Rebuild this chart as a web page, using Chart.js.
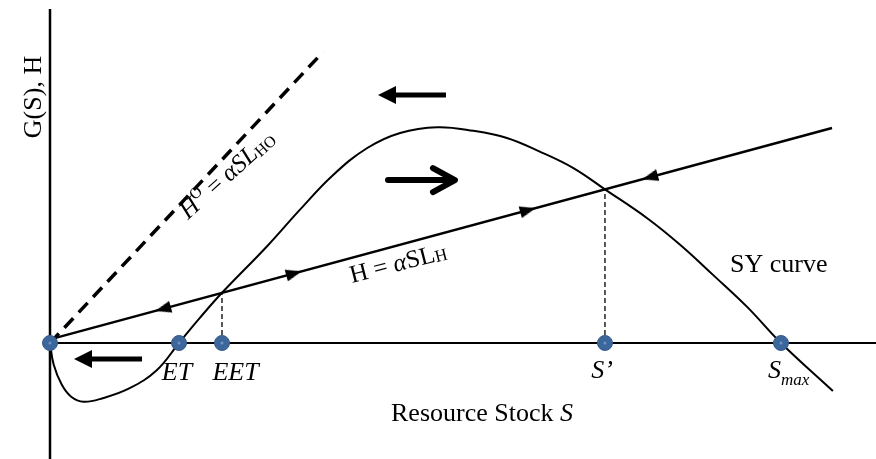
<!DOCTYPE html>
<html><head><meta charset="utf-8">
<script src="https://cdn.jsdelivr.net/npm/chart.js@4"></script>
<style>html,body{margin:0;padding:0;background:#fff}#wrap{width:876px;height:459px}</style>
</head><body><div id="wrap"><canvas id="c" width="876" height="459"></canvas></div>
<script>
// ---- data (stock S, growth G / harvest H in arbitrary units) ----
const CURVE_S = [0, 0.5, 1.6, 2.9, 4.6, 7.2, 10.9, 14.6, 17.65, 20.5, 23.53, 29.7, 34.2, 38.7, 43.4, 47.9, 53.0, 57.9, 62.5, 67.0, 71.6, 75.92, 81.7, 86.2, 90.7, 95.4, 100, 107.1];
const CURVE_G = [0, -3.0, -5.8, -7.5, -8.2, -7.7, -6.3, -3.8, 0, 3.5, 7.0, 13.5, 18.6, 23.4, 27.2, 29.3, 30.1, 29.6, 28.6, 26.7, 24.4, 21.43, 17.4, 13.7, 9.5, 5.0, 0, -6.7];
const H_LINE_S = [0, 106.98];
const H_LINE_V = [0.5, 29.99];
const HO_LINE_S = [0, 37.35];
const HO_LINE_V = [0, 40.59];
const EQ_LABELS = ['0', 'ET', 'EET', 'S’', 'Smax'];
const EQ_S = [0, 17.65, 23.53, 75.92, 100];
const DROP_S = [23.53, 75.92];           // EET and S' dashed drop lines
const FLOW_S = [15.46, 33.38, 65.39, 82.08];
const FLOW_DIR = [-1, 1, 1, -1];
const X_RANGE = [-6.84, 113.0];
const Y_RANGE = [-16.18, 47.84];
const Y_AXIS_TOP = 46.58;

function hAt(s){ return H_LINE_V[0] + (s - H_LINE_S[0]) * (H_LINE_V[1]-H_LINE_V[0])/(H_LINE_S[1]-H_LINE_S[0]); }

// arrowhead image for flow markers (points up, rotated by Chart.js)
const head = document.createElement('canvas');
head.width = 12; head.height = 16;
(function(){ const c = head.getContext('2d'); c.fillStyle='#000'; c.beginPath(); c.moveTo(6,0); c.lineTo(12,16); c.lineTo(0,16); c.closePath(); c.fill(); })();

const lineAngle = 15.4;
const SERIF = '"Liberation Serif","Times New Roman",serif';

function runsWidth(ctx, runs){ let w=0; for(const r of runs){ ctx.font=r.f; w+=ctx.measureText(r.t).width; } return w; }
function drawRuns(ctx, x, y, ang, runs, align){
  ctx.save(); ctx.translate(x,y); ctx.rotate(ang*Math.PI/180);
  ctx.textBaseline='alphabetic'; ctx.textAlign='left'; ctx.fillStyle='#000';
  let cx = 0; const w = runsWidth(ctx, runs);
  if(align==='center') cx = -w/2;
  for(const r of runs){ ctx.font=r.f; ctx.fillText(r.t, cx, r.dy||0); cx += ctx.measureText(r.t).width; }
  ctx.restore();
}
function F(size, italic){ return (italic?'italic ':'') + size + 'px ' + SERIF; }

const annot = {
  id:'annot',
  afterDatasetsDraw(chart){
    const ctx = chart.ctx, xs = chart.scales.x, ys = chart.scales.y;
    const P = (x,y)=>[xs.getPixelForValue(x), ys.getPixelForValue(y)];
    ctx.save(); ctx.fillStyle='#000'; ctx.strokeStyle='#000';
    function bigArrow(tail, tip){
      const [x1,y1]=P(tail[0],tail[1]), [x2,y2]=P(tip[0],tip[1]);
      const dir = Math.sign(x2-x1), hl=18, hw=9;
      ctx.lineWidth=5; ctx.lineCap='butt';
      ctx.beginPath(); ctx.moveTo(x1,y1); ctx.lineTo(x2-dir*hl+dir*1,y2); ctx.stroke();
      ctx.beginPath(); ctx.moveTo(x2,y2); ctx.lineTo(x2-dir*hl,y2-hw); ctx.lineTo(x2-dir*hl,y2+hw); ctx.closePath(); ctx.fill();
    }
    bigArrow([12.59,-2.23],[3.28,-2.23]);
    bigArrow([54.17,34.59],[44.87,34.59]);
    { const [x1,y1]=P(46.24,22.73), [x2,y2]=P(55.40,22.73);
      ctx.lineWidth=6; ctx.lineCap='round'; ctx.lineJoin='round';
      ctx.beginPath(); ctx.moveTo(x1,y1); ctx.lineTo(x2-2,y2); ctx.stroke();
      ctx.beginPath(); ctx.moveTo(x2-22,y2-12); ctx.lineTo(x2,y2); ctx.lineTo(x2-22,y2+12); ctx.stroke(); }
    let p;
    p=P(-1.23,34.31); drawRuns(ctx,p[0],p[1],-90,[{t:'G(S), H',f:F(26)}],'center');
    p=P(59.10,-10.88); drawRuns(ctx,p[0],p[1],0,[{t:'Resource Stock ',f:F(26)},{t:'S',f:F(26,true)}],'center');
    p=P(93.02,9.90); drawRuns(ctx,p[0],p[1],0,[{t:'SY curve',f:F(26)}]);
    p=P(17.37,-5.16); drawRuns(ctx,p[0],p[1],0,[{t:EQ_LABELS[1],f:F(26,true)}],'center');
    p=P(25.38,-5.16); drawRuns(ctx,p[0],p[1],0,[{t:EQ_LABELS[2],f:F(26,true)}],'center');
    p=P(75.51,-4.88); drawRuns(ctx,p[0],p[1],0,[{t:EQ_LABELS[3],f:F(26,true)}],'center');
    p=P(98.22,-4.88); drawRuns(ctx,p[0],p[1],0,[{t:'S',f:F(26,true)},{t:'max',f:F(17,true),dy:7}]);
    p=P(41.31,8.37); drawRuns(ctx,p[0],p[1],-lineAngle+1,[{t:'H = ',f:F(25)},{t:'α',f:F(25,true)},{t:'SL',f:F(25)},{t:'H',f:F(17),dy:1}]);
    p=P(18.88,17.15); drawRuns(ctx,p[0],p[1],-42,[{t:'H',f:F(25,true)},{t:'O',f:F(16),dy:-10},{t:' = ',f:F(25)},{t:'αSL',f:F(25,true)},{t:'HO',f:F(16),dy:2}]);
    ctx.restore();
  }
};

const pts = (xs, ys) => xs.map((x,i)=>({x, y:ys[i]}));

new Chart(document.getElementById('c'), {
  type:'scatter',
  data:{ datasets:[
    { label:'eq-center', data:EQ_S.map(s=>({x:s,y:0})), pointRadius:1.5, pointBackgroundColor:'#6d95c6', pointBorderWidth:0, showLine:false },
    { label:'equilibria', data:EQ_S.map(s=>({x:s,y:0})), pointRadius:7.5, pointBackgroundColor:'#3d669b', pointBorderColor:'#355b8c', pointBorderWidth:1, showLine:false },
    { label:'flow', data:FLOW_S.map(s=>({x:s,y:hAt(s)})), pointStyle:head, pointRotation:FLOW_DIR.map(d=> d>0 ? 90-lineAngle : 270-lineAngle), showLine:false },
    { label:'SY curve', data:pts(CURVE_S, CURVE_G), showLine:true, borderColor:'#000', borderWidth:2, pointRadius:0, tension:0.4 },
    { label:'H', data:pts(H_LINE_S, H_LINE_V), showLine:true, borderColor:'#000', borderWidth:2.5, pointRadius:0 },
    { label:'HO', data:pts(HO_LINE_S, HO_LINE_V), showLine:true, borderColor:'#000', borderWidth:3.5, borderDash:[13,8], pointRadius:0 },
    { label:'drop1', data:[{x:DROP_S[0],y:0},{x:DROP_S[0],y:hAt(DROP_S[0])}], showLine:true, borderColor:'#222', borderWidth:1.5, borderDash:[5,3], pointRadius:0 },
    { label:'drop2', data:[{x:DROP_S[1],y:0},{x:DROP_S[1],y:hAt(DROP_S[1])}], showLine:true, borderColor:'#222', borderWidth:1.5, borderDash:[5,3], pointRadius:0 },
    { label:'x-axis', data:[{x:0,y:0},{x:X_RANGE[1],y:0}], showLine:true, borderColor:'#000', borderWidth:2, pointRadius:0 },
    { label:'y-axis', data:[{x:0,y:Y_RANGE[0]},{x:0,y:Y_AXIS_TOP}], showLine:true, borderColor:'#000', borderWidth:2.5, pointRadius:0 }
  ]},
  options:{
    responsive:false, animation:false, devicePixelRatio:1,
    layout:{padding:0, autoPadding:false},
    plugins:{ legend:{display:false}, tooltip:{enabled:false} },
    scales:{
      x:{ type:'linear', min:X_RANGE[0], max:X_RANGE[1], display:false },
      y:{ type:'linear', min:Y_RANGE[0], max:Y_RANGE[1], display:false }
    },
    elements:{ line:{ borderCapStyle:'butt' } }
  },
  plugins:[annot]
});
</script>
</body></html>
